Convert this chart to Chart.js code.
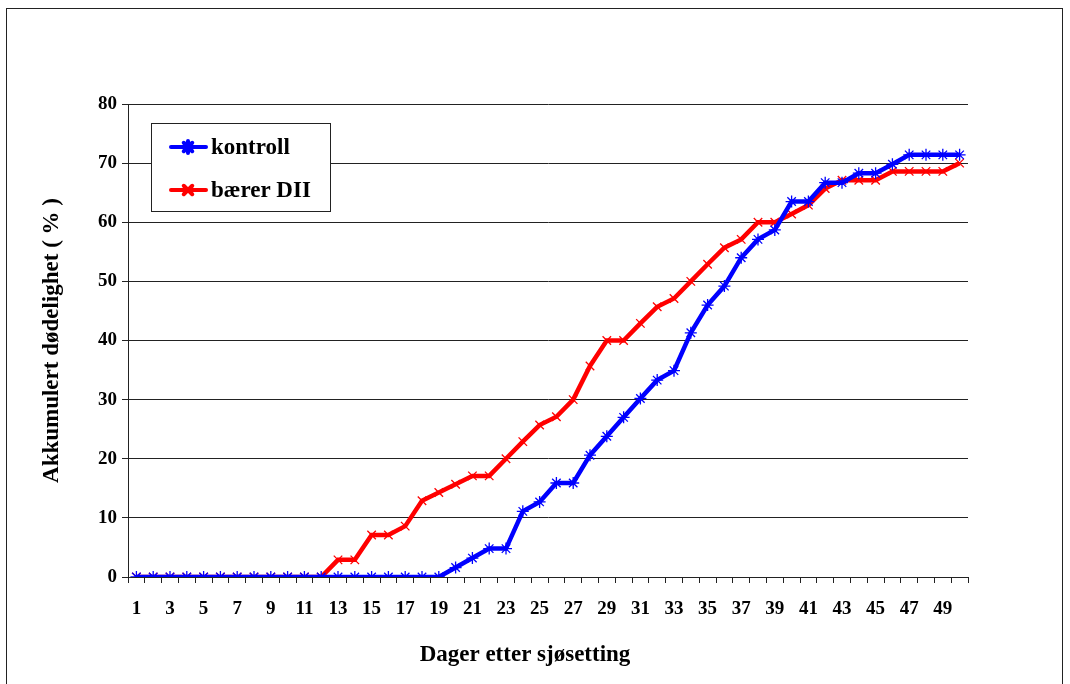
<!DOCTYPE html>
<html>
<head>
<meta charset="utf-8">
<script src="https://cdn.jsdelivr.net/npm/chart.js@4.4.0/dist/chart.umd.min.js"></script>
<style>
  html, body { margin: 0; padding: 0; background: #fff; }
  #wrap { position: relative; width: 1070px; height: 684px; overflow: hidden; }
  #frame {
    position: absolute; left: 6px; top: 8px; width: 1055px; height: 700px;
    border: 1.5px solid #222; border-bottom: none;
  }
  #cv { position: absolute; left: 0; top: 0; }
</style>
</head>
<body>
<div id="wrap">
  <div id="frame"></div>
  <canvas id="cv" width="1070" height="684"></canvas>
</div>
<script>
// days after launch
const days = [];
for (let d = 1; d <= 50; d++) days.push(String(d));

const kontroll = [
  0, 0, 0, 0, 0, 0, 0, 0, 0, 0,
  0, 0, 0, 0, 0, 0, 0, 0, 0, 1.6,
  3.2, 4.8, 4.8, 11.1, 12.7, 15.9, 15.9, 20.6, 23.8, 27.0,
  30.2, 33.3, 34.9, 41.3, 46.0, 49.2, 54.0, 57.1, 58.7, 63.5,
  63.5, 66.7, 66.7, 68.3, 68.3, 69.8, 71.4, 71.4, 71.4, 71.4
];

const baererDII = [
  0, 0, 0, 0, 0, 0, 0, 0, 0, 0,
  0, 0, 2.9, 2.9, 7.1, 7.1, 8.6, 12.9, 14.3, 15.7,
  17.1, 17.1, 20.0, 22.9, 25.7, 27.1, 30.0, 35.7, 40.0, 40.0,
  42.9, 45.7, 47.1, 50.0, 52.9, 55.7, 57.1, 60.0, 60.0, 61.4,
  62.9, 65.7, 67.1, 67.1, 67.1, 68.6, 68.6, 68.6, 68.6, 70.0
];

const seriesNames = ['kontroll', 'bærer DII'];
const yTicks = [0, 10, 20, 30, 40, 50, 60, 70, 80];
const xTitle = 'Dager etter sjøsetting';

const serif = '"Liberation Serif", "Times New Roman", serif';

// legend box drawn inside the plot, like the Excel original
const boxLegend = {
  id: 'boxLegend',
  afterDraw(chart) {
    const ctx = chart.ctx;
    const x = 151, y = 123, w = 179, h = 88;
    ctx.save();
    ctx.fillStyle = '#fff';
    ctx.fillRect(x, y, w, h);
    ctx.strokeStyle = '#222';
    ctx.lineWidth = 1;
    ctx.strokeRect(x + 0.5, y + 0.5, w, h);
    const rows = [147, 190];
    chart.data.datasets.forEach((ds, i) => {
      const ly = rows[i];
      ctx.strokeStyle = ds.borderColor;
      ctx.lineWidth = 4;
      ctx.lineCap = 'round';
      ctx.beginPath();
      ctx.moveTo(171, ly);
      ctx.lineTo(206, ly);
      ctx.stroke();
      Chart.helpers.drawPoint(ctx, {
        pointStyle: ds.pointStyle, radius: 6, borderWidth: 1.3
      }, 188, ly);
      ctx.fillStyle = '#000';
      ctx.font = 'bold 23px ' + serif;
      ctx.textBaseline = 'middle';
      ctx.textAlign = 'left';
      ctx.fillText(ds.label, 211, ly + 1);
    });
    ctx.restore();
  }
};

// x title is centred on the whole figure, not on the plot
const xTitlePlugin = {
  id: 'xTitlePlugin',
  afterDraw(chart) {
    const ctx = chart.ctx;
    ctx.save();
    ctx.fillStyle = '#000';
    ctx.font = 'bold 23px ' + serif;
    ctx.textAlign = 'center';
    ctx.textBaseline = 'middle';
    ctx.fillText(xTitle, 525, 655);
    ctx.restore();
  }
};

const ctx = document.getElementById('cv').getContext('2d');
new Chart(ctx, {
  type: 'line',
  data: {
    labels: days,
    datasets: [
      {
        label: seriesNames[0],
        data: kontroll,
        borderColor: '#0000ff',
        backgroundColor: '#0000ff',
        borderWidth: 4.5,
        pointStyle: 'star',
        pointRadius: 6,
        pointBorderWidth: 1.3,
        pointBorderColor: '#0000ff',
        tension: 0
      },
      {
        label: seriesNames[1],
        data: baererDII,
        borderColor: '#ff0000',
        backgroundColor: '#ff0000',
        borderWidth: 4.5,
        pointStyle: 'crossRot',
        pointRadius: 6,
        pointBorderWidth: 1.3,
        pointBorderColor: '#ff0000',
        tension: 0
      }
    ]
  },
  options: {
    responsive: false,
    animation: false,
    layout: { padding: { left: 0, top: 104, right: 102, bottom: 0 } },
    plugins: {
      legend: { display: false },
      tooltip: { enabled: false }
    },
    scales: {
      x: {
        offset: true,
        grid: {
          offset: true,
          drawOnChartArea: false,
          color: '#222',
          tickLength: 6,
          tickColor: '#222'
        },
        border: { color: '#222', width: 1 },
        ticks: {
          autoSkip: false,
          maxRotation: 0,
          minRotation: 0,
          padding: 15,
          color: '#000',
          font: { family: serif, weight: 'bold', size: 19 },
          callback: (v, i) => (i % 2 === 0 ? days[i] : '')
        },
        title: { display: false },
        afterFit: s => { s.height = 107; }
      },
      y: {
        min: 0,
        max: 80,
        afterBuildTicks: s => { s.ticks = yTicks.map(v => ({ value: v })); },
        grid: {
          color: '#222',
          lineWidth: 1,
          tickLength: 6,
          tickColor: '#222'
        },
        border: { color: '#222', width: 1 },
        ticks: {
          padding: 5,
          color: '#000',
          font: { family: serif, weight: 'bold', size: 19 }
        },
        title: {
          display: true,
          text: 'Akkumulert dødelighet ( % )',
          color: '#000',
          font: { family: serif, weight: 'bold', size: 23 },
          padding: { top: 38, bottom: 0 }
        },
        afterFit: s => { s.width = 128; }
      }
    }
  },
  plugins: [boxLegend, xTitlePlugin]
});
</script>
</body>
</html>
